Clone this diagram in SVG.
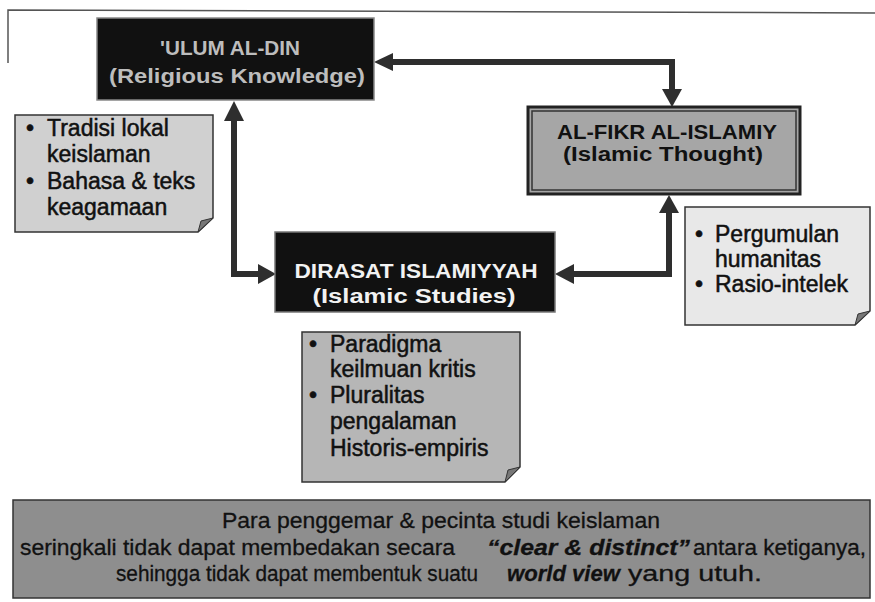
<svg xmlns="http://www.w3.org/2000/svg" width="875" height="602" viewBox="0 0 875 602">
<style>
.note{stroke:#333;stroke-width:1.5}
.fold{fill:#777;stroke:#333;stroke-width:1}
.nt{font-family:"Liberation Sans",Arial,sans-serif;font-size:23px;fill:#111;stroke:#111;stroke-width:0.5}
.bt{font-family:"Liberation Sans",Arial,sans-serif;font-weight:bold;font-size:20px}
.ban{font-family:"Liberation Sans",Arial,sans-serif;font-size:22px;fill:#111;stroke:#111;stroke-width:0.3}
.bi{font-weight:bold;font-style:italic}
.conn{fill:none;stroke:#2e2e2e;stroke-width:6}
.head{fill:#2e2e2e}
</style>
<rect width="875" height="602" fill="#ffffff"/>
<path d="M8,63 L8,10 L875,13" fill="none" stroke="#555" stroke-width="1.5"/>

<g id="connectors">
  <path class="conn" d="M672,90 L672,62 L392,62"/>
  <polygon class="head" points="374,62 393,53 393,71"/>
  <polygon class="head" points="672,107 662,89 682,89"/>
  <path class="conn" d="M234,120 L234,274 L259,274"/>
  <polygon class="head" points="234,101 224,121 244,121"/>
  <polygon class="head" points="276,274 258,264 258,284"/>
  <path class="conn" d="M669,212 L669,274 L573,274"/>
  <polygon class="head" points="669,195 659,213 679,213"/>
  <polygon class="head" points="555,274 574,264 574,284"/>
</g>

<g id="node-ulum">
  <rect x="97" y="18" width="277" height="82" fill="#111" stroke="#888" stroke-width="1.5"/>
  <text class="bt" x="230" y="55" text-anchor="middle" fill="#bdbdbd" font-size="21" textLength="140" lengthAdjust="spacingAndGlyphs">'ULUM AL-DIN</text>
  <text class="bt" x="237" y="83" text-anchor="middle" fill="#bdbdbd" font-size="21" textLength="256" lengthAdjust="spacingAndGlyphs">(Religious Knowledge)</text>
</g>

<g id="node-fikr">
  <rect x="528" y="107" width="272" height="87" fill="#a6a6a6" stroke="#222" stroke-width="3"/>
  <rect x="532" y="111" width="264" height="79" fill="none" stroke="#333" stroke-width="1.5"/>
  <text class="bt" x="667" y="139" text-anchor="middle" fill="#111" textLength="220" lengthAdjust="spacingAndGlyphs">AL-FIKR AL-ISLAMIY</text>
  <text class="bt" x="663" y="161" text-anchor="middle" fill="#111" textLength="200" lengthAdjust="spacingAndGlyphs">(Islamic Thought)</text>
</g>

<g id="node-dirasat">
  <rect x="275" y="232" width="280" height="80" fill="#111" stroke="#777" stroke-width="1.5"/>
  <text class="bt" x="416" y="278" text-anchor="middle" fill="#f2f2f2" font-size="21" textLength="243" lengthAdjust="spacingAndGlyphs">DIRASAT ISLAMIYYAH</text>
  <text class="bt" x="414" y="303" text-anchor="middle" fill="#f2f2f2" font-size="21" textLength="203" lengthAdjust="spacingAndGlyphs">(Islamic Studies)</text>
</g>

<g id="note-ulum">
  <path class="note" fill="#d0d0d0" d="M15,115 L213,115 L213,218 L198,232 L15,232 Z"/>
  <path class="fold" d="M213,218 L198,232 L201,221 Z"/>
  <text class="nt" x="26" y="136">•</text>
  <text class="nt" x="47" y="136">Tradisi lokal</text>
  <text class="nt" x="47" y="162">keislaman</text>
  <text class="nt" x="26" y="189">•</text>
  <text class="nt" x="47" y="189">Bahasa &amp; teks</text>
  <text class="nt" x="47" y="215">keagamaan</text>
</g>

<g id="note-fikr">
  <path class="note" fill="#e8e8e8" d="M685,207 L870,207 L870,311 L855,325 L685,325 Z"/>
  <path class="fold" d="M870,311 L855,325 L858,314 Z"/>
  <text class="nt" x="695" y="242">•</text>
  <text class="nt" x="715" y="242">Pergumulan</text>
  <text class="nt" x="715" y="267">humanitas</text>
  <text class="nt" x="695" y="292">•</text>
  <text class="nt" x="715" y="292">Rasio-intelek</text>
</g>

<g id="note-dirasat">
  <path class="note" fill="#b6b6b6" d="M302,332 L520,332 L520,467 L505,482 L302,482 Z"/>
  <path class="fold" d="M520,467 L505,482 L508,470 Z"/>
  <text class="nt" x="309" y="352">•</text>
  <text class="nt" x="330" y="352">Paradigma</text>
  <text class="nt" x="330" y="377">keilmuan kritis</text>
  <text class="nt" x="309" y="403">•</text>
  <text class="nt" x="330" y="403">Pluralitas</text>
  <text class="nt" x="330" y="429">pengalaman</text>
  <text class="nt" x="330" y="456">Historis-empiris</text>
</g>

<g id="banner">
  <rect x="13" y="500" width="857" height="98" fill="#8e8e8e" stroke="#333" stroke-width="1.5"/>
  <text class="ban" x="222" y="528" textLength="438" lengthAdjust="spacingAndGlyphs">Para penggemar &amp; pecinta studi keislaman</text>
  <text class="ban" x="20" y="555" textLength="435" lengthAdjust="spacingAndGlyphs">seringkali tidak dapat membedakan secara</text>
  <text class="ban bi" x="487" y="555" textLength="203" lengthAdjust="spacingAndGlyphs">“clear &amp; distinct”</text>
  <text class="ban" x="693" y="555" textLength="173" lengthAdjust="spacingAndGlyphs">antara ketiganya,</text>
  <text class="ban" x="116" y="581" textLength="362" lengthAdjust="spacingAndGlyphs">sehingga tidak dapat membentuk suatu</text>
  <text class="ban bi" x="507" y="581" textLength="113" lengthAdjust="spacingAndGlyphs">world view</text>
  <text class="ban" x="628" y="581" textLength="134" lengthAdjust="spacingAndGlyphs">yang utuh.</text>
</g>
</svg>
